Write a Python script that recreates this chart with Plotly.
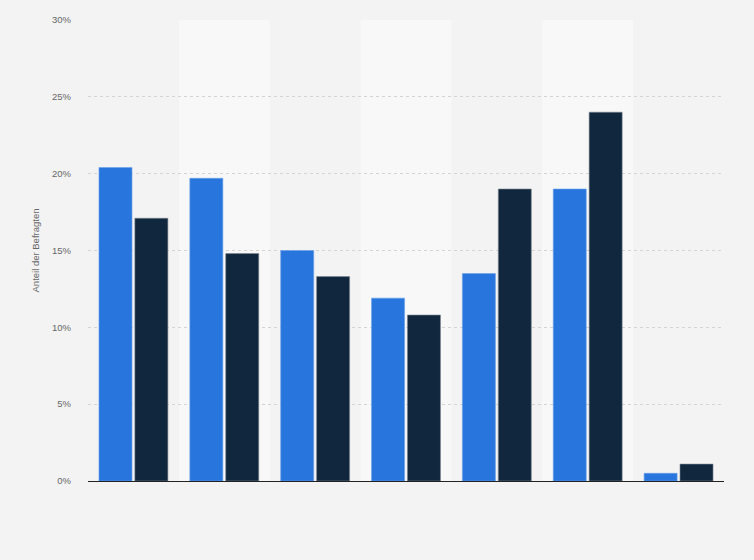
import plotly.graph_objects as go

# categories are not labelled in the picture
categories = ["A", "B", "C", "D", "E", "F", "G"]
series_1 = [20.4, 19.7, 15.0, 11.9, 13.5, 19.0, 0.5]
series_2 = [17.1, 14.8, 13.3, 10.8, 19.0, 24.0, 1.1]
y_ticks = [0, 5, 10, 15, 20, 25, 30]
y_tick_labels = ["0%", "5%", "10%", "15%", "20%", "25%", "30%"]

fig = go.Figure()
fig.add_trace(
    go.Bar(
        x=categories,
        y=series_1,
        name="Serie 1",
        marker=dict(color="#2876dd", line=dict(color="#6aa0ea", width=0.6)),
    )
)
fig.add_trace(
    go.Bar(
        x=categories,
        y=series_2,
        name="Serie 2",
        marker=dict(color="#10273e", line=dict(color="#7a8591", width=0.6)),
    )
)

# lighter background bands behind every second category
for i in range(1, len(categories), 2):
    fig.add_shape(
        type="rect",
        xref="x",
        yref="paper",
        x0=i - 0.5,
        x1=i + 0.5,
        y0=0,
        y1=1,
        fillcolor="#f8f8f8",
        line=dict(width=0),
        layer="below",
    )

fig.update_layout(
    width=754,
    height=560,
    paper_bgcolor="#f3f3f3",
    plot_bgcolor="#f3f3f3",
    showlegend=False,
    barmode="group",
    bargap=0.21,
    bargroupgap=0.08,
    margin=dict(l=88, r=30, t=20, b=79),
    font=dict(family="Liberation Sans, Arial, sans-serif", color="#666666", size=9.5),
    xaxis=dict(
        showticklabels=False,
        showgrid=False,
        showline=True,
        linecolor="#222222",
        linewidth=1.2,
        ticks="",
        zeroline=False,
    ),
    yaxis=dict(
        range=[0, 30],
        tickvals=y_ticks,
        ticktext=y_tick_labels,
        showgrid=True,
        gridcolor="#d4d4d4",
        griddash="dot",
        gridwidth=1,
        zeroline=False,
        ticks="",
        ticklabelstandoff=16,
        title=dict(text="Anteil der Befragten", font=dict(size=9.5, color="#666666"), standoff=10),
    ),
)

fig.write_html(
    "out.html",
    config={"displayModeBar": False},
    post_script="document.body.style.margin='0';document.body.style.background='#f3f3f3';",
)
